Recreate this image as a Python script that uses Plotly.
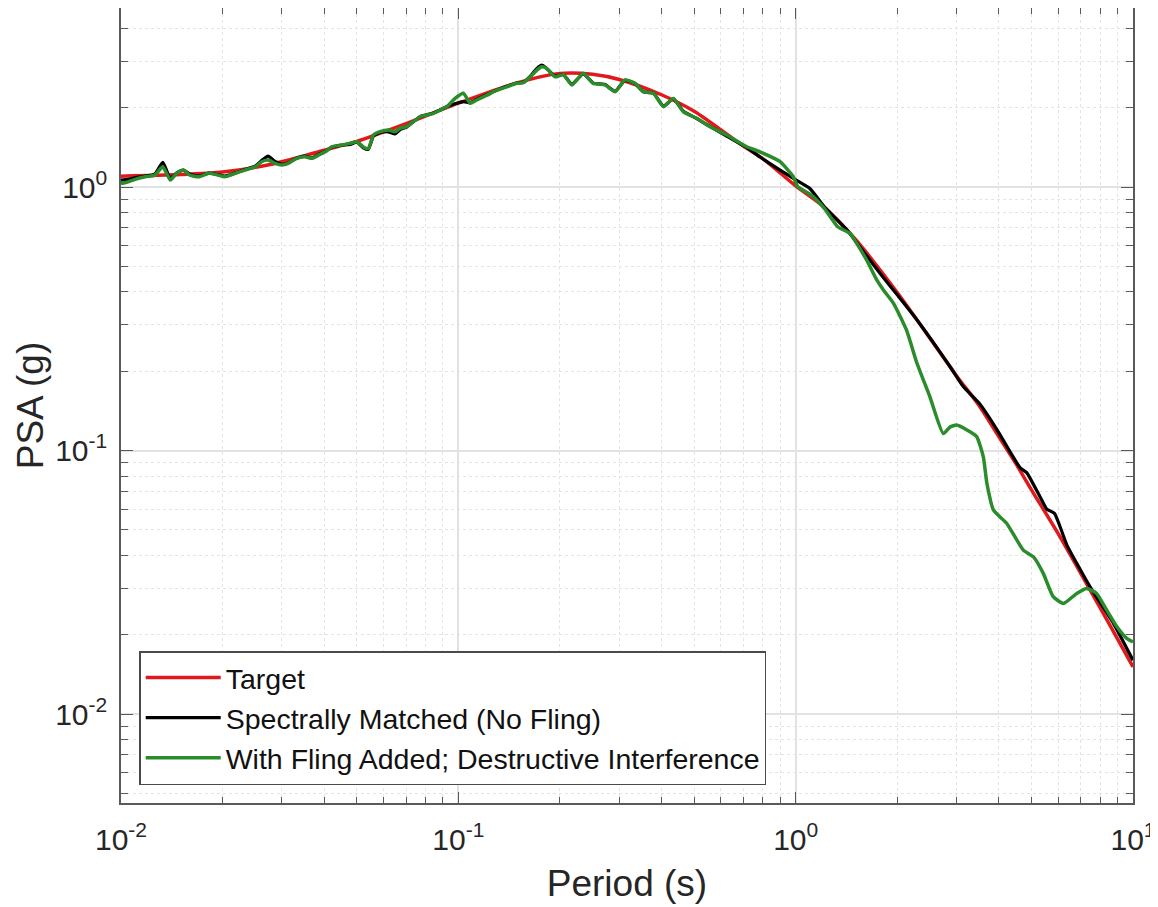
import math
import plotly.graph_objects as go

# ---- data ----
period_target = [0.01, 0.015, 0.02, 0.027, 0.034, 0.04, 0.05, 0.07, 0.1, 0.15, 0.2, 0.25, 0.3,
                 0.4, 0.5, 0.7, 0.8, 1.0, 1.2, 1.5, 2.0, 2.5, 3.0, 3.5, 4.0, 4.5, 5.0, 6.0,
                 7.0, 8.5, 10.0]
psa_target = [1.10, 1.115, 1.14, 1.21, 1.30, 1.38, 1.49, 1.74, 2.08, 2.49, 2.70, 2.68, 2.56,
              2.24, 1.94, 1.43, 1.28, 1.01, 0.85, 0.635, 0.398, 0.267, 0.192, 0.148, 0.113,
              0.089, 0.071, 0.0484, 0.0342, 0.022, 0.0151]

period_matched = [0.0100, 0.0105, 0.0110, 0.0118, 0.0126, 0.0133, 0.0140, 0.0146, 0.0153, 0.0160,
                  0.0170, 0.0182, 0.0194, 0.0203, 0.0218, 0.0233, 0.0250, 0.0261, 0.0273, 0.0286,
                  0.0300, 0.0313, 0.0332, 0.0351, 0.0368, 0.0385, 0.0403, 0.0422, 0.0446, 0.0478,
                  0.0500, 0.0523, 0.0541, 0.0560, 0.0586, 0.0620, 0.0649, 0.0672, 0.0703, 0.0736,
                  0.0770, 0.0806, 0.0844, 0.0883, 0.0925, 0.0978, 0.1035, 0.1084, 0.1133, 0.1214,
                  0.1300, 0.1391, 0.1490, 0.1560, 0.1633, 0.1710, 0.1768, 0.1828, 0.1935, 0.2048,
                  0.2169, 0.2346, 0.2512, 0.2722, 0.2915, 0.3120, 0.3340, 0.3536, 0.3787, 0.4055,
                  0.4340, 0.4647, 0.5090, 0.5573, 0.6246, 0.7160, 0.7840, 0.8990, 0.9840, 1.100,
                  1.216, 1.420, 1.555, 1.780, 2.000, 2.290, 2.870, 3.140, 3.520, 3.770,
                  4.000, 4.300, 4.630, 4.840, 5.300, 5.550, 5.850, 6.080, 6.360, 7.460,
                  8.750, 10.00]
psa_matched = [1.063, 1.07, 1.085, 1.10, 1.12, 1.24, 1.08, 1.13, 1.16, 1.12,
               1.10, 1.13, 1.115, 1.10, 1.13, 1.165, 1.20, 1.26, 1.31, 1.25,
               1.22, 1.235, 1.29, 1.31, 1.29, 1.33, 1.365, 1.42, 1.44, 1.45,
               1.48, 1.41, 1.39, 1.56, 1.61, 1.62, 1.59, 1.65, 1.69, 1.77,
               1.85, 1.88, 1.91, 1.96, 2.02, 2.07, 2.11, 2.09, 2.15, 2.24,
               2.33, 2.41, 2.48, 2.50, 2.63, 2.82, 2.90, 2.82, 2.64, 2.67,
               2.46, 2.69, 2.48, 2.45, 2.31, 2.54, 2.47, 2.30, 2.27, 2.03,
               2.16, 1.94, 1.82, 1.70, 1.56, 1.41, 1.30, 1.16, 1.079, 0.989,
               0.842, 0.687, 0.59, 0.47, 0.39, 0.313, 0.208, 0.175, 0.150, 0.132,
               0.117, 0.100, 0.086, 0.0825, 0.0668, 0.0600, 0.0578, 0.0514, 0.0440, 0.0304,
               0.0221, 0.0160]

period_fling = [0.0100, 0.0105, 0.0110, 0.0118, 0.0126, 0.0133, 0.0140, 0.0146, 0.0153, 0.0160,
                0.0170, 0.0182, 0.0194, 0.0203, 0.0218, 0.0233, 0.0250, 0.0261, 0.0273, 0.0286,
                0.0300, 0.0313, 0.0332, 0.0351, 0.0368, 0.0385, 0.0403, 0.0422, 0.0446, 0.0478,
                0.0500, 0.0523, 0.0541, 0.0560, 0.0586, 0.0620, 0.0649, 0.0672, 0.0703, 0.0736,
                0.0770, 0.0806, 0.0844, 0.0883, 0.0925, 0.0978, 0.1035, 0.1084, 0.1133, 0.1214,
                0.1300, 0.1391, 0.1490, 0.1560, 0.1633, 0.1710, 0.1768, 0.1828, 0.1935, 0.2048,
                0.2169, 0.2346, 0.2512, 0.2722, 0.2915, 0.3120, 0.3340, 0.3536, 0.3787, 0.4055,
                0.4340, 0.4647, 0.5090, 0.5573, 0.6246, 0.7160, 0.7840, 0.8990, 0.9840, 1.014,
                1.110, 1.216, 1.332, 1.450, 1.517, 1.624, 1.739, 1.820, 1.950, 2.130,
                2.290, 2.500, 2.740, 2.870, 3.000, 3.210, 3.440, 3.600, 3.690, 3.860,
                4.220, 4.730, 5.070, 5.420, 5.800, 6.220, 6.810, 7.290, 7.800, 8.360,
                8.950, 9.580, 10.00]
psa_fling = [1.03, 1.047, 1.07, 1.094, 1.11, 1.194, 1.063, 1.127, 1.16, 1.11,
             1.094, 1.127, 1.11, 1.094, 1.127, 1.16, 1.194, 1.248, 1.266, 1.23,
             1.212, 1.23, 1.285, 1.303, 1.285, 1.322, 1.361, 1.422, 1.44, 1.465,
             1.486, 1.42, 1.40, 1.575, 1.622, 1.646, 1.622, 1.671, 1.694, 1.77,
             1.849, 1.876, 1.905, 1.96, 2.018, 2.17, 2.27, 2.08, 2.14, 2.23,
             2.33, 2.40, 2.475, 2.49, 2.62, 2.78, 2.86, 2.82, 2.62, 2.67,
             2.44, 2.70, 2.475, 2.44, 2.30, 2.55, 2.475, 2.30, 2.27, 2.018,
             2.17, 1.93, 1.823, 1.694, 1.575, 1.422, 1.36, 1.248, 1.094, 1.003,
             0.933, 0.83, 0.707, 0.667, 0.611, 0.528, 0.444, 0.407, 0.362, 0.287,
             0.214, 0.160, 0.116, 0.123, 0.125, 0.120, 0.113, 0.0946, 0.075, 0.0594,
             0.053, 0.0419, 0.0395, 0.0342, 0.0279, 0.0263, 0.0287, 0.030, 0.0287, 0.0248,
             0.0215, 0.0194, 0.0188]

series_names = ["Target", "Spectrally Matched (No Fling)",
                "With Fling Added; Destructive Interference"]

x_tick_vals = [0.01, 0.1, 1, 10]
x_tick_text = ["10<sup>-2</sup>", "10<sup>-1</sup>", "10<sup>0</sup>", "10<sup>1</sup>"]
y_tick_vals = [0.01, 0.1, 1]
y_tick_text = ["10<sup>-2</sup>", "10<sup>-1</sup>", "10<sup>0</sup>"]

y_min, y_max = 0.0046, 4.78
x_minor = [k * 10.0 ** n for n in (-2, -1, 0) for k in range(2, 10)]
y_minor = [k * 10.0 ** n for n in (-3, -2, -1, 0) for k in range(2, 10)
           if y_min <= k * 10.0 ** n <= y_max]

FONT = "Liberation Sans, Arial, Helvetica, sans-serif"
AX = "#5a5a5a"
TXT = "#262626"

fig = go.Figure()
fig.add_trace(go.Scatter(x=period_target, y=psa_target, mode="lines", name=series_names[0],
                         line=dict(color="#e0191c", width=3.5, shape="spline", smoothing=0.8)))
fig.add_trace(go.Scatter(x=period_matched, y=psa_matched, mode="lines", name=series_names[1],
                         line=dict(color="#000000", width=3.2, shape="spline", smoothing=0.5)))
fig.add_trace(go.Scatter(x=period_fling, y=psa_fling, mode="lines", name=series_names[2],
                         line=dict(color="#2a8c2a", width=3.5, shape="spline", smoothing=0.5)))

common = dict(
    type="log", automargin=False,
    ticks="inside", tickwidth=1.3, tickcolor=AX,
    showline=True, linecolor=AX, linewidth=1.5, mirror="ticks",
    showgrid=True, gridcolor="#e2e2e2", gridwidth=1.5,
    zeroline=False,
    tickfont=dict(family=FONT, size=30, color=TXT),
)

fig.update_layout(
    width=1158, height=907,
    margin=dict(l=113, r=33, t=0, b=112, autoexpand=False),
    paper_bgcolor="white", plot_bgcolor="white",
    font=dict(family=FONT, color=TXT),
    showlegend=True,
    legend=dict(
        x=0.018, y=0.0226, xanchor="left", yanchor="bottom",
        bgcolor="white", bordercolor="#4a4a4a", borderwidth=1.5,
        font=dict(family=FONT, size=28.5, color="#111111"),
        tracegroupgap=0, itemwidth=75,
    ),
    xaxis=dict(
        common, range=[-2, 1], tickvals=x_tick_vals, ticktext=x_tick_text, ticklen=11,
        ticklabelstandoff=9,
        minor=dict(tickvals=x_minor, ticks="inside", ticklen=6, tickcolor=AX, tickwidth=1.2,
                   showgrid=True, gridcolor="#e4e4e4", gridwidth=1.2, griddash="dot"),
        title=dict(text="Period (s)", font=dict(family=FONT, size=37, color=TXT), standoff=15),
    ),
    yaxis=dict(
        common, range=[math.log10(y_min), math.log10(y_max)],
        tickvals=y_tick_vals, ticktext=y_tick_text, ticklen=12,
        ticklabelstandoff=6,
        minor=dict(tickvals=y_minor, ticks="inside", ticklen=7, tickcolor=AX, tickwidth=1.2,
                   showgrid=True, gridcolor="#e4e4e4", gridwidth=1.2, griddash="dot"),
        title=dict(text="PSA (g)", font=dict(family=FONT, size=37, color=TXT), standoff=0),
    ),
)

fig.write_html("out.html")
